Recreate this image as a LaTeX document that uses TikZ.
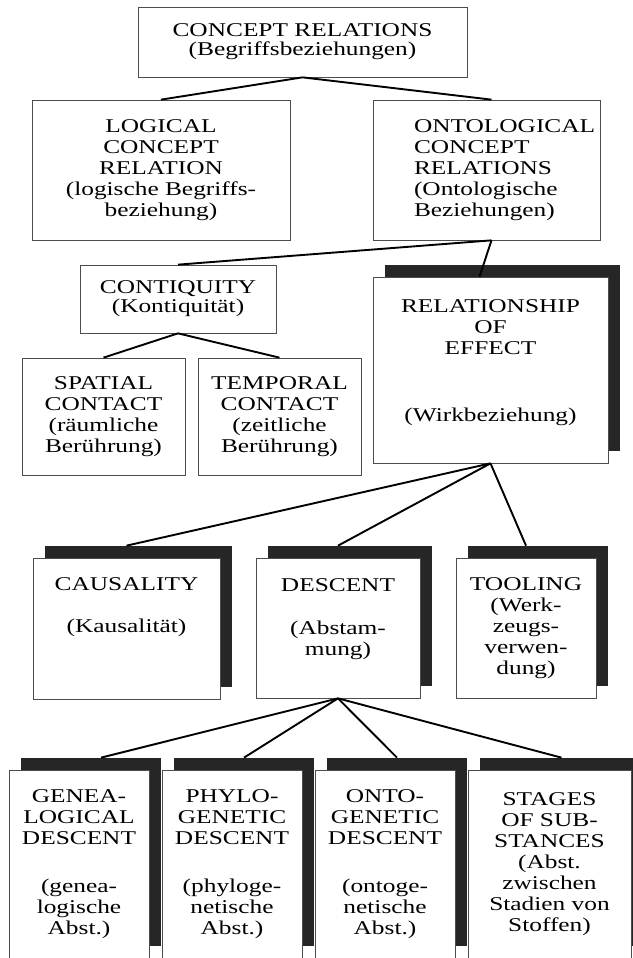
\documentclass[tikz,border=0pt]{standalone}
\usepackage{fontspec}
\setmainfont{Liberation Serif}[FakeStretch=1.3]
\usetikzlibrary{shadows}
\hyphenpenalty=10000

\begin{document}
\begin{tikzpicture}[x=1pt, y=-1pt,
  box/.style={rectangle, draw=black!70, line width=0.7pt, fill=white, align=center, font=\fontsize{19.5}{21}\selectfont},
  sbox/.style={box, drop shadow={shadow xshift=12pt, shadow yshift=12pt, fill=black!85, opacity=1}},
  link/.style={line width=1.9pt}]

\useasboundingbox (0,0) rectangle (632,958);

\node [box, minimum width=329pt, minimum height=70pt, font=\fontsize{19.5}{19}\selectfont] (v1) at (302.5,42) {CONCEPT RELATIONS\\(Begriffsbeziehungen)};
\node [box, minimum width=258pt, minimum height=140pt] (v2) at (161,170) {LOGICAL\\CONCEPT\\RELATION\\(logische Begriffs-\\beziehung)};
\node [box, minimum width=227pt, minimum height=140pt, align=left, text width=145pt] (v3) at (486.5,170) {ONTOLOGICAL\\CONCEPT\\RELATIONS\\(Ontologische\\Beziehungen)};
\draw [link] (v1.south) edge (v2.north);
\draw [link] (v1.south) edge ([xshift=5pt]v3.north);

\node [box, minimum width=196pt, minimum height=68pt, font=\fontsize{19.5}{19}\selectfont] (v4) at (178,299) {CONTIQUITY\\(Kontiquität)};
\node [sbox, minimum width=235pt, minimum height=186pt, text depth=18pt] (v5) at (490.5,370) {RELATIONSHIP\\OF\\EFFECT\\[46pt](Wirkbeziehung)};
\draw [link] ([xshift=5pt]v3.south) edge (v4.north);
\draw [link] ([xshift=5pt]v3.south) edge ([xshift=-11pt]v5.north);

\node [box, minimum width=163pt, minimum height=117pt] (v6) at (103.5,416.5) {SPATIAL\\CONTACT\\(räumliche\\Berührung)};
\node [box, minimum width=163pt, minimum height=117pt] (v7) at (279.5,416.5) {TEMPORAL\\CONTACT\\(zeitliche\\Berührung)};
\draw [link] (v4.south) edge (v6.north);
\draw [link] (v4.south) edge (v7.north);

\node [sbox, minimum width=187pt, minimum height=141pt, text depth=46pt] (v8) at (126.5,628.5) {CAUSALITY\\[21pt](Kausalität)};
\node [sbox, minimum width=164pt, minimum height=140pt, text depth=22pt] (v9) at (338,628) {DESCENT\\[22pt](Abstam-\\mung)};
\node [sbox, minimum width=140pt, minimum height=140pt] (v10) at (526,628) {TOOLING\\(Werk-\\zeugs-\\verwen-\\dung)};
\draw [link] (v5.south) edge ([yshift=12pt]v8.north);
\draw [link] (v5.south) edge ([yshift=12pt]v9.north);
\draw [link] (v5.south) edge ([yshift=12pt]v10.north);

\node [sbox, minimum width=140pt, minimum height=188pt] (v11) at (79,864) {GENEA-\\LOGICAL\\DESCENT\\[27pt](genea-\\logische\\Abst.)};
\node [sbox, minimum width=140pt, minimum height=188pt] (v12) at (232,864) {PHYLO-\\GENETIC\\DESCENT\\[27pt](phyloge-\\netische\\Abst.)};
\node [sbox, minimum width=140pt, minimum height=188pt] (v13) at (385,864) {ONTO-\\GENETIC\\DESCENT\\[27pt](ontoge-\\netische\\Abst.)};
\node [sbox, minimum width=163pt, minimum height=188pt] (v14) at (549.5,864) {STAGES\\OF SUB-\\STANCES\\(Abst.\\zwischen\\Stadien von\\Stoffen)};
\draw [link] (v9.south) edge ([xshift=22pt, yshift=12pt]v11.north);
\draw [link] (v9.south) edge ([xshift=12pt, yshift=12pt]v12.north);
\draw [link] (v9.south) edge ([xshift=12pt, yshift=12pt]v13.north);
\draw [link] (v9.south) edge ([xshift=12pt, yshift=12pt]v14.north);
\end{tikzpicture}
\end{document}
